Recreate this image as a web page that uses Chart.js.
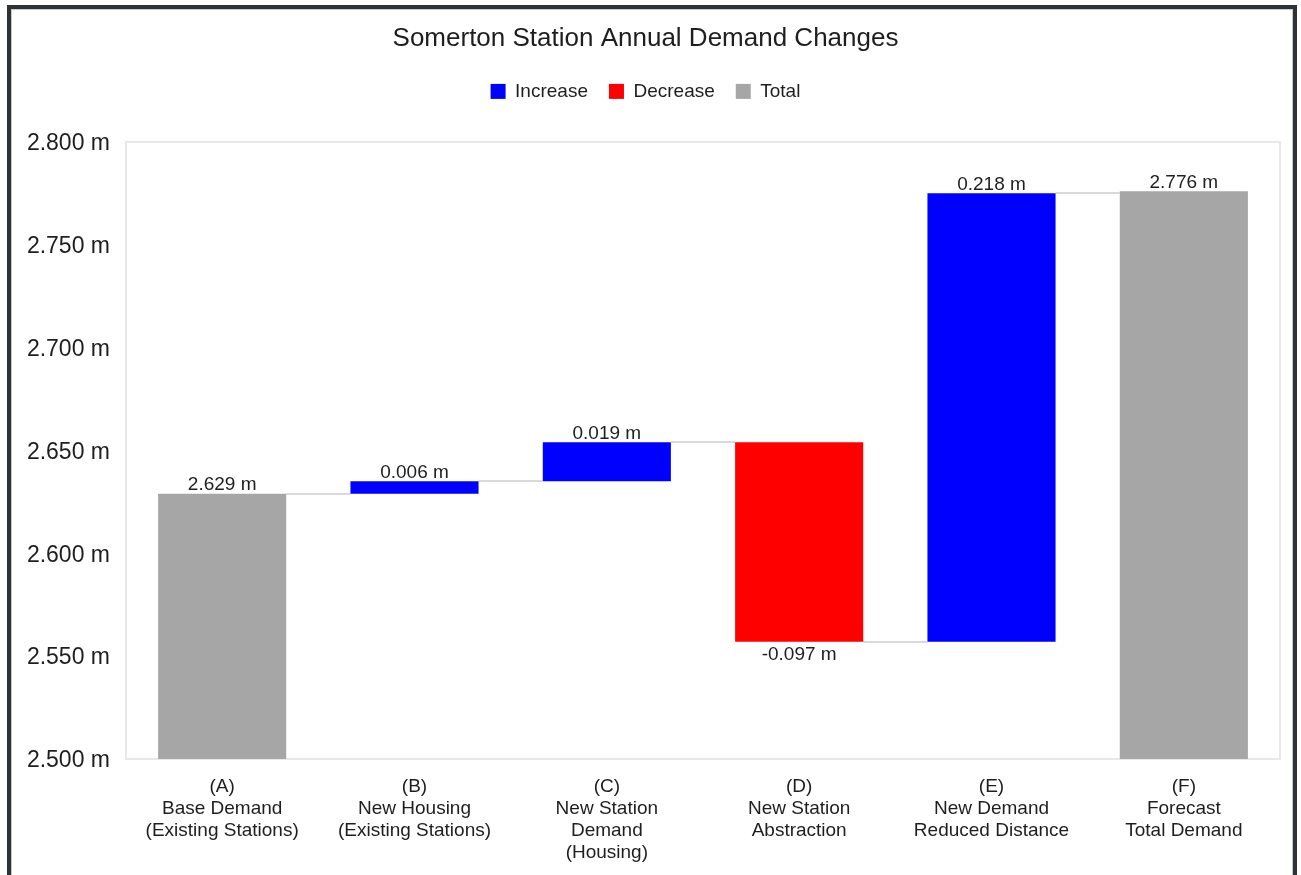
<!DOCTYPE html>
<html>
<head>
<meta charset="utf-8">
<script src="https://cdn.jsdelivr.net/npm/chart.js@4/dist/chart.umd.min.js"></script>
<style>
  html, body { margin: 0; padding: 0; background: #ffffff; overflow: hidden; }
  #frame { position: absolute; left: 7px; top: 5px; width: 1282px; height: 880px;
           border: 4px solid #2e3236; background: #fff; box-shadow: inset 0 0 0 1px #c8c8c8; }
  #c { position: absolute; left: 11px; top: 9px; }
</style>
</head>
<body>
<div id="frame"></div>
<canvas id="c" width="1282" height="866"></canvas>
<script>
// ---- data ----
const categories = [
  ["(A)", "Base Demand", "(Existing Stations)"],
  ["(B)", "New Housing", "(Existing Stations)"],
  ["(C)", "New Station", "Demand", "(Housing)"],
  ["(D)", "New Station", "Abstraction"],
  ["(E)", "New Demand", "Reduced Distance"],
  ["(F)", "Forecast", "Total Demand"]
];
const baseDemand = 2.629;
const changes = [0.006, 0.019, -0.097, 0.218];
const forecastTotal = 2.776;
const yTicks = [2.500, 2.550, 2.600, 2.650, 2.700, 2.750, 2.800];
const legendNames = ["Increase", "Decrease", "Total"];
const legendColors = ["#0000ff", "#ff0000", "#a6a6a6"];

// ---- build waterfall ranges ----
const ranges = [];
const labelValues = [];
const barColors = [];
ranges.push([0, baseDemand]); labelValues.push(baseDemand); barColors.push(legendColors[2]);
let running = baseDemand;
changes.forEach(c => {
  const start = running;
  running = +(running + c).toFixed(6);
  ranges.push([start, running]);
  labelValues.push(c);
  barColors.push(c >= 0 ? legendColors[0] : legendColors[1]);
});
ranges.push([0, forecastTotal]); labelValues.push(forecastTotal); barColors.push(legendColors[2]);

const FONT = "'Liberation Sans', Arial, sans-serif";

const waterfallPlugin = {
  id: 'waterfall',
  beforeDatasetsDraw(chart) {
    const {ctx, chartArea: a} = chart;
    const y = chart.scales.y;
    const meta = chart.getDatasetMeta(0);
    ctx.save();
    ctx.strokeStyle = '#e8e8e8';
    ctx.lineWidth = 2;
    ctx.strokeRect(a.left, a.top, a.right - a.left, a.bottom - a.top);
    ctx.strokeStyle = '#dadada';
    ctx.lineWidth = 2;
    for (let i = 0; i < meta.data.length - 1; i++) {
      const b1 = meta.data[i], b2 = meta.data[i + 1];
      const py = Math.round(y.getPixelForValue(ranges[i][1]));
      ctx.beginPath();
      ctx.moveTo(b1.x + b1.width / 2, py);
      ctx.lineTo(b2.x - b2.width / 2, py);
      ctx.stroke();
    }
    ctx.restore();
  },
  afterDatasetsDraw(chart) {
    const {ctx} = chart;
    const meta = chart.getDatasetMeta(0);
    ctx.save();
    ctx.font = "19px " + FONT;
    ctx.fillStyle = '#1e1e1e';
    ctx.textAlign = 'center';
    meta.data.forEach((bar, i) => {
      const v = labelValues[i];
      const top = Math.min(bar.y, bar.base);
      const bottom = Math.max(bar.y, bar.base);
      const txt = v.toFixed(3) + ' m';
      if (v < 0) {
        ctx.textBaseline = 'top';
        ctx.fillText(txt, bar.x, bottom + 4);
      } else {
        ctx.textBaseline = 'bottom';
        ctx.fillText(txt, bar.x, top + 1);
      }
    });
    ctx.restore();
  }
};

new Chart(document.getElementById('c'), {
  type: 'bar',
  data: {
    labels: categories,
    datasets: [{
      data: ranges,
      backgroundColor: barColors,
      borderWidth: 0,
      barPercentage: 0.666,
      categoryPercentage: 1.0
    }]
  },
  options: {
    responsive: false,
    animation: false,
    events: [],
    layout: { padding: { left: 0, right: 13, top: 0, bottom: 0 } },
    plugins: {
      title: {
        display: true,
        text: 'Somerton Station Annual Demand Changes',
        color: '#1e1e1e',
        font: { family: FONT, size: 26, weight: 'normal', lineHeight: 1.15 },
        padding: { top: 15, bottom: 7 }
      },
      subtitle: {
        display: true,
        text: '',
        position: 'top',
        weight: 500,
        font: { family: FONT, size: 10, lineHeight: 1 },
        padding: { top: 21, bottom: 0 }
      },
      legend: {
        display: true,
        position: 'top',
        labels: {
          color: '#1e1e1e',
          font: { family: FONT, size: 19 },
          boxWidth: 15,
          boxHeight: 15,
          padding: 21,
          generateLabels: () => legendNames.map((n, i) => ({
            text: n, fillStyle: legendColors[i], strokeStyle: legendColors[i],
            lineWidth: 0, fontColor: '#1e1e1e', hidden: false, index: i
          }))
        }
      },
      tooltip: { enabled: false }
    },
    scales: {
      x: {
        grid: { display: false, drawTicks: false },
        border: { display: false },
        ticks: {
          color: '#1e1e1e',
          font: { family: FONT, size: 19, lineHeight: 1.16 },
          padding: 17,
          maxRotation: 0,
          autoSkip: false
        },
        afterFit(scale) { scale.height = 116; }
      },
      y: {
        min: 2.5,
        max: 2.8,
        afterBuildTicks(scale) { scale.ticks = yTicks.map(v => ({ value: v })); },
        grid: { display: false, drawTicks: false },
        border: { display: false },
        ticks: {
          color: '#1e1e1e',
          font: { family: FONT, size: 23 },
          padding: 16,
          labelOffset: 2,
          callback: v => Number(v).toFixed(3) + ' m'
        },
        afterFit(scale) { scale.width = 115; }
      }
    }
  },
  plugins: [waterfallPlugin]
});
</script>
</body>
</html>
